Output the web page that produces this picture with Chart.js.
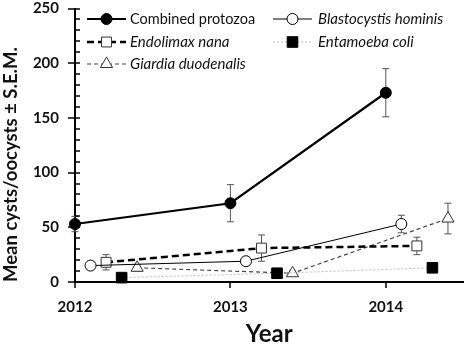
<!DOCTYPE html>
<html><head><meta charset="utf-8">
<script src="https://cdn.jsdelivr.net/npm/chart.js@4"></script>
<style>html,body{margin:0;padding:0;background:#fff}</style>
</head><body>
<canvas id="c" width="472" height="344"></canvas>
<script>
// ---- data ----
const years = [2012, 2013, 2014];
const yTickValues = [0, 50, 100, 150, 200, 250];
const yMinorStep = 10;

const combinedMean = [53, 72, 173];
const combinedSEM  = [7, 17, 22];
const blastoMean   = [15, 19, 53];
const blastoSEM    = [3, 3, 8];
const endoMean     = [18, 31, 33];
const endoSEM      = [7, 12, 8];
const entaMean     = [4, 8, 13];
const entaSEM      = [1, 1, 1];
const giardiaMean  = [13, 8, 58];
const giardiaSEM   = [3, 2, 14];

const seriesNames = ['Combined protozoa', 'Blastocystis hominis', 'Endolimax nana', 'Entamoeba coli', 'Giardia duodenalis'];

// ---- build datasets ----
function pts(vals, shift) { return vals.map((v, i) => ({ x: years[i] + shift, y: v })); }

const datasets = [
  { label: seriesNames[0], data: pts(combinedMean, 0), sem: combinedSEM, italic: false, labelSize: 14.5,
    borderColor: '#000', borderWidth: 2.2, pointStyle: 'circle', pointRadius: 5.5,
    pointBackgroundColor: '#000', pointBorderColor: '#000', pointBorderWidth: 1 },
  { label: seriesNames[1], data: pts(blastoMean, 0.1), sem: blastoSEM, italic: true, labelSize: 15,
    borderColor: '#000', borderWidth: 1, pointStyle: 'circle', pointRadius: 5.5,
    pointBackgroundColor: '#fff', pointBorderColor: '#000', pointBorderWidth: 1 },
  { label: seriesNames[2], data: pts(endoMean, 0.2), sem: endoSEM, italic: true, labelSize: 15,
    borderColor: '#000', borderWidth: 2.5, borderDash: [7, 4], pointStyle: 'rect', pointRadius: 7,
    pointBackgroundColor: '#fff', pointBorderColor: '#333', pointBorderWidth: 1 },
  { label: seriesNames[3], data: pts(entaMean, 0.3), sem: entaSEM, italic: true, labelSize: 15,
    borderColor: '#bdbdbd', borderWidth: 1, borderDash: [2, 2], pointStyle: 'rect', pointRadius: 7.5,
    pointBackgroundColor: '#000', pointBorderColor: '#000', pointBorderWidth: 1 },
  { label: seriesNames[4], data: pts(giardiaMean, 0.4), sem: giardiaSEM, italic: true, labelSize: 15,
    borderColor: '#444', borderWidth: 1.2, borderDash: [4, 3], pointStyle: 'triangle', pointRadius: 7,
    pointBackgroundColor: '#fff', pointBorderColor: '#333', pointBorderWidth: 1 }
].map(d => Object.assign({ fill: false, tension: 0, clip: false, showLine: true }, d));

const FONT = 'Lato, "Open Sans", sans-serif';

// ---- plugins ----
const errorBars = {
  id: 'errorBars',
  beforeDatasetsDraw(chart) {
    const { ctx, scales: { x, y } } = chart;
    ctx.save();
    ctx.strokeStyle = '#555';
    ctx.lineWidth = 1;
    chart.data.datasets.forEach(ds => {
      ds.data.forEach((p, i) => {
        const e = ds.sem[i];
        const px = x.getPixelForValue(p.x);
        const yt = y.getPixelForValue(p.y + e), yb = y.getPixelForValue(p.y - e);
        ctx.beginPath();
        ctx.moveTo(px, yt); ctx.lineTo(px, yb);
        ctx.moveTo(px - 3.5, yt); ctx.lineTo(px + 3.5, yt);
        ctx.moveTo(px - 3.5, yb); ctx.lineTo(px + 3.5, yb);
        ctx.stroke();
      });
    });
    ctx.restore();
  }
};

const tickMarks = {
  id: 'tickMarks',
  afterDraw(chart) {
    const { ctx, scales: { x, y }, chartArea } = chart;
    ctx.save();
    ctx.strokeStyle = '#000';
    ctx.lineWidth = 1.5;
    for (let v = y.min; v <= y.max; v += yMinorStep) {
      const py = Math.round(y.getPixelForValue(v));
      const major = yTickValues.includes(v);
      ctx.beginPath();
      ctx.moveTo(chartArea.left - (major ? 7 : 0), py);
      ctx.lineTo(chartArea.left + 5, py);
      ctx.stroke();
    }
    years.forEach(yr => {
      const px = Math.round(x.getPixelForValue(yr));
      ctx.beginPath();
      ctx.moveTo(px, chartArea.bottom);
      ctx.lineTo(px, chartArea.bottom + 6);
      ctx.stroke();
    });
    ctx.restore();
  }
};

const boxLegend = {
  id: 'boxLegend',
  afterDraw(chart) {
    const { ctx } = chart;
    const cols = [{ x0: 87, x1: 126, tx: 130 }, { x0: 273, x1: 312, tx: 318 }];
    const rows = [19, 42, 64];
    ctx.save();
    chart.data.datasets.forEach((ds, i) => {
      const c = cols[i % 2], ry = rows[Math.floor(i / 2)];
      ctx.strokeStyle = ds.borderColor;
      ctx.lineWidth = ds.borderWidth;
      ctx.setLineDash(ds.borderDash || []);
      ctx.beginPath(); ctx.moveTo(c.x0, ry); ctx.lineTo(c.x1, ry); ctx.stroke();
      ctx.setLineDash([]);
      ctx.fillStyle = ds.pointBackgroundColor;
      ctx.strokeStyle = ds.pointBorderColor;
      ctx.lineWidth = ds.pointBorderWidth;
      Chart.helpers.drawPoint(ctx, { pointStyle: ds.pointStyle, radius: ds.pointRadius, rotation: 0, borderWidth: ds.pointBorderWidth }, (c.x0 + c.x1) / 2, ry);
      ctx.fillStyle = '#111';
      ctx.font = (ds.italic ? 'italic ' : '') + ds.labelSize + 'px ' + FONT;
      ctx.textBaseline = 'middle';
      ctx.textAlign = 'left';
      ctx.fillText(ds.label, c.tx, ry);
    });
    ctx.restore();
  }
};

new Chart(document.getElementById('c'), {
  type: 'line',
  data: { datasets },
  plugins: [errorBars, tickMarks, boxLegend],
  options: {
    responsive: false,
    devicePixelRatio: 1,
    animation: false,
    layout: { padding: { left: 0, right: 2, top: 0, bottom: 0 } },
    plugins: { legend: { display: false }, tooltip: { enabled: false } },
    scales: {
      x: {
        type: 'linear', min: 2012, max: 2014.5,
        afterBuildTicks(scale) { scale.ticks = years.map(v => ({ value: v })); },
        afterFit(scale) { scale.height = 62; scale.paddingRight = 2; },
        grid: { display: false, drawTicks: false },
        border: { display: true, color: '#000', width: 2 },
        ticks: { padding: 16, color: '#111', font: { family: FONT, size: 15, weight: 'bold' },
                 callback: v => String(v) },
        title: { display: true, text: 'Year', color: '#111', padding: 0,
                 font: { family: FONT, size: 24, weight: 'bold', lineHeight: 0.8 } }
      },
      y: {
        min: 0, max: 250,
        afterBuildTicks(scale) { scale.ticks = yTickValues.map(v => ({ value: v })); },
        afterFit(scale) { scale.width = 75; scale.paddingTop = 8; scale.paddingBottom = 0; },
        grid: { display: false, drawTicks: false },
        border: { display: true, color: '#000', width: 2 },
        ticks: { padding: 16, color: '#111', font: { family: FONT, size: 15, weight: 'bold' } },
        title: { display: true, text: 'Mean cysts/oocysts ± S.E.M.', align: 'start', color: '#111', padding: 0,
                 font: { family: FONT, size: 18.5, weight: 'bold' } }
      }
    }
  }
});
</script>
</body></html>
